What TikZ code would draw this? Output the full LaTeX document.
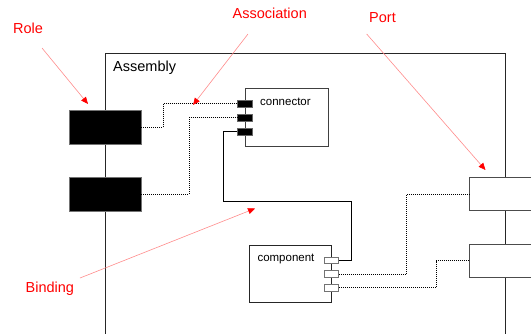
\documentclass[tikz,border=0pt]{standalone}
\usepackage{fontspec}
\setmainfont{Liberation Sans}
\usetikzlibrary{arrows.meta,positioning}

\begin{document}
\begin{tikzpicture}[
    x=1pt, y=-1pt,
    every node/.style={
        font=\fontsize{14.5}{17}\selectfont,
        inner sep=0pt,
    },
    box/.style={draw=black!85, line width=0.9pt, fill=white},
    role/.style={draw=black!55, fill=black, line width=0.8pt, minimum width=72pt, minimum height=33.5pt},
    port/.style={box, draw=black!70, minimum width=72pt, minimum height=33.4pt},
    cport/.style={draw=black!60, fill=black, line width=0.6pt, minimum width=15pt, minimum height=7pt},
    pport/.style={draw=black!55, fill=white, line width=0.8pt, minimum width=14.5pt, minimum height=6.5pt},
    small/.style={font=\fontsize{11.5}{14}\selectfont},
    wire/.style={line width=0.9pt},
    assoc/.style={line width=0.8pt, dash pattern=on 1pt off 1pt},
    note/.style={red!45, line width=0.6pt, -{Triangle[red, length=7pt, width=6pt]}},
    tag/.style={red},
]
    \useasboundingbox (0,0) rectangle (531,333);
    \clip (0,0) rectangle (531,333);
    \node[box, minimum width=400.7pt, minimum height=347pt] (asm) at (305.35,226.5) {};
    \node[anchor=base west] (asmLbl) at (113,71) {Assembly};
    \node[box, draw=black!75, minimum width=83.3pt, minimum height=58pt] (conn) at (286.7,117) {};
    \node[small, anchor=base west] (connLbl) at (260,105) {connector};
    \node[box, minimum width=81.6pt, minimum height=57pt] (comp) at (290.5,273.8) {};
    \node[small, anchor=base west] (compLbl) at (257.3,261.7) {component};
    \node[cport] (cn1) at (244.5,103.5) {};
    \node[cport] (cn2) at (244.5,117.3) {};
    \node[cport] (cn3) at (244.5,131.3) {};
    \node[pport] (cp1) at (331.3,260.5) {};
    \node[pport] (cp2) at (331.3,274) {};
    \node[pport] (cp3) at (331.3,287.8) {};
    \node[role] (role1) at (105,127.3) {};
    \node[role] (role2) at (105,194.2) {};
    \node[port] (pb1) at (505.7,194) {};
    \node[port] (pb2) at (505.7,260.8) {};
    \draw[assoc] (role1.east) -- ++(22,0) |- (cn1.west);
    \draw[assoc] (role2.east) -- ++(47.7,0) |- (cn2.west);
    \draw[wire] (cn3.west) -- ++(-13,0) -- ++(0,70.4) -| ([xshift=12.5pt]cp1.east) -- (cp1.east);
    \draw[assoc] (cp2.east) -- ++(67.6,0) |- (pb1.west);
    \draw[assoc] (cp3.east) -- ++(97.3,0) |- (pb2.west);
    \node[tag, anchor=base west] (roleLbl) at (13,33) {Role};
    \node[tag, anchor=base west] (assocLbl) at (232.5,18) {Association};
    \node[tag, anchor=base west] (portLbl) at (369,22.5) {Port};
    \node[tag, anchor=base west] (bindLbl) at (25.5,292) {Binding};
    \coordinate (roleTail) at (42,48);
    \coordinate (roleTip) at (88,104);
    \coordinate (assocTail) at (248,34);
    \coordinate (assocTip) at (193,105);
    \coordinate (portTail) at (366.7,34);
    \coordinate (portTip) at (485.5,170);
    \coordinate (bindTail) at (80,278);
    \coordinate (bindTip) at (255,208.5);
    \draw[note] (roleTail) -- (roleTip);
    \draw[note] (assocTail) -- (assocTip);
    \draw[note] (portTail) -- (portTip);
    \draw[note] (bindTail) -- (bindTip);
\end{tikzpicture}
\end{document}
